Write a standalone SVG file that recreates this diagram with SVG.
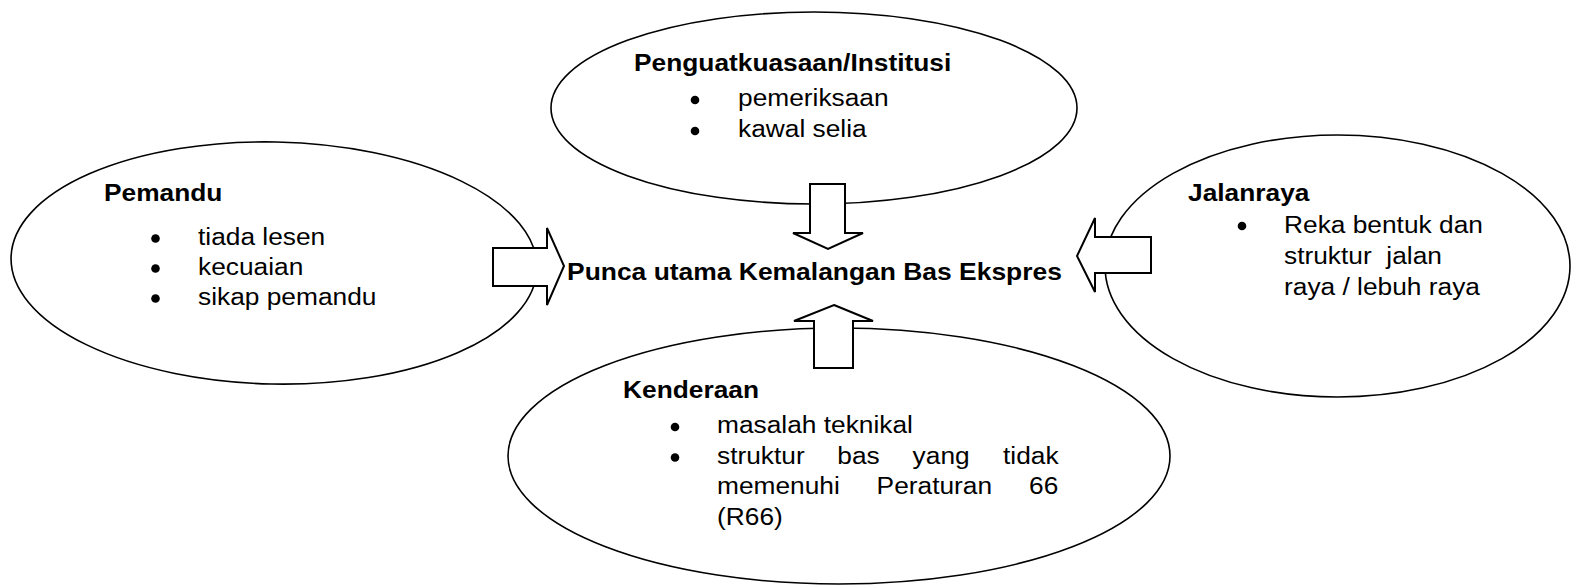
<svg xmlns="http://www.w3.org/2000/svg" width="1571" height="587" viewBox="0 0 1571 587">
<style>
.bg{fill:#fff}
.ell{fill:#fff;stroke:#000;stroke-width:1.6}
.arr{fill:#fff;stroke:#000;stroke-width:2;stroke-linejoin:miter}
text{font-family:"Liberation Sans",Arial,sans-serif;font-size:23.5px;fill:#000;white-space:pre}
.b{font-weight:bold}
.dot{fill:#000}
</style>
<rect class="bg" x="0" y="0" width="1571" height="587"/>
<g id="node-pemandu">
<ellipse class="ell" cx="274" cy="263" rx="263" ry="121" transform="rotate(1.2 274 263)"/>
<text class="b" transform="translate(104 201) scale(1.12 1)">Pemandu</text>
<circle class="dot" cx="155.5" cy="238.5" r="4.3"/>
<circle class="dot" cx="155.5" cy="268.5" r="4.3"/>
<circle class="dot" cx="155.5" cy="298.5" r="4.3"/>
<text transform="translate(198 244.5) scale(1.12 1)">tiada lesen</text>
<text transform="translate(198 274.5) scale(1.12 1)">kecuaian</text>
<text transform="translate(198 304.5) scale(1.12 1)">sikap pemandu</text>
</g>
<g id="node-penguatkuasaan">
<ellipse class="ell" cx="814" cy="108" rx="263" ry="96"/>
<text class="b" transform="translate(634 71) scale(1.12 1)">Penguatkuasaan/Institusi</text>
<circle class="dot" cx="695" cy="100" r="4.3"/>
<circle class="dot" cx="695" cy="131" r="4.3"/>
<text transform="translate(738 106) scale(1.12 1)">pemeriksaan</text>
<text transform="translate(738 137) scale(1.12 1)">kawal selia</text>
</g>
<g id="node-jalanraya">
<ellipse class="ell" cx="1337.5" cy="266" rx="232.5" ry="131"/>
<text class="b" transform="translate(1188 201) scale(1.12 1)">Jalanraya</text>
<circle class="dot" cx="1242" cy="226" r="4.3"/>
<text transform="translate(1284 232.5) scale(1.12 1)">Reka bentuk dan</text>
<text transform="translate(1284 264) scale(1.12 1)">struktur  jalan</text>
<text transform="translate(1284 294.5) scale(1.12 1)">raya / lebuh raya</text>
</g>
<g id="node-kenderaan">
<ellipse class="ell" cx="839" cy="456" rx="331" ry="128"/>
<text class="b" transform="translate(623 398) scale(1.12 1)">Kenderaan</text>
<circle class="dot" cx="675" cy="427" r="4.3"/>
<circle class="dot" cx="675" cy="457.5" r="4.3"/>
<text transform="translate(717 433) scale(1.12 1)">masalah teknikal</text>
<text transform="translate(717 463.5) scale(1.12 1)">struktur</text>
<text transform="translate(837.3 463.5) scale(1.12 1)">bas</text>
<text transform="translate(912.6 463.5) scale(1.12 1)">yang</text>
<text transform="translate(1003 463.5) scale(1.12 1)">tidak</text>
<text transform="translate(717 494) scale(1.12 1)">memenuhi</text>
<text transform="translate(876.6 494) scale(1.12 1)">Peraturan</text>
<text transform="translate(1029 494) scale(1.12 1)">66</text>
<text transform="translate(717 524.5) scale(1.12 1)">(R66)</text>
</g>
<g id="node-punca">
<text class="b" transform="translate(567 280) scale(1.125 1)">Punca utama Kemalangan Bas Ekspres</text>
</g>
<g id="connectors">
<polygon class="arr" points="493,248 547,248 547,228 564,266 547,305 547,286 493,286"/>
<polygon class="arr" points="810,184 845,184 845,233 863,233 828,249 793,233 810,233"/>
<polygon class="arr" points="1151,237 1095,237 1095,218 1077,256 1095,292 1095,273 1151,273"/>
<polygon class="arr" points="834,305 873,321 853,321 853,368 814,368 814,321 794,321"/>
</g>
</svg>
